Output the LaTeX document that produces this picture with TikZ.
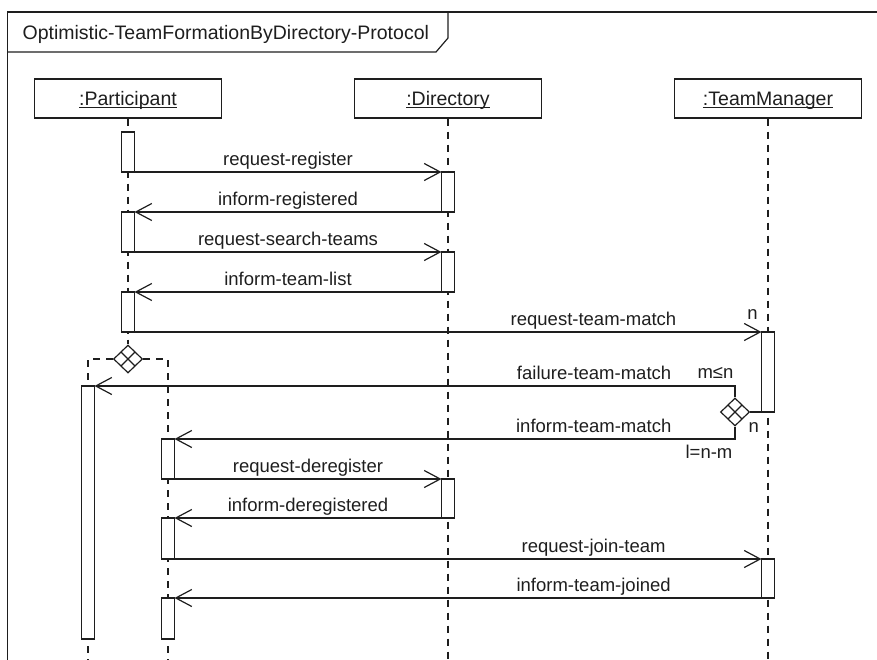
\documentclass[tikz,border=0pt]{standalone}
\usepackage{fontspec}
\setmainfont{Liberation Sans}
\usetikzlibrary{arrows.meta,shapes.geometric}
\definecolor{ink}{RGB}{30,30,30}
\tikzset{
  head/.style={draw, fill=white, minimum width=187pt, minimum height=39pt, inner sep=0pt,
    text height=14pt, text depth=0pt, font=\fontsize{19.5}{22}\selectfont},
  act/.style={draw, fill=white, minimum width=13pt, minimum height=#1, inner sep=0pt,
    outer sep=0pt, anchor=north},
  life/.style={dash pattern=on 7pt off 6pt},
  msg/.style={-{Straight Barb[length=16pt,width=17pt]}},
  lbl/.style={anchor=base, yshift=6.5pt, inner sep=0pt, font=\fontsize{18.5}{22}\selectfont},
  mult/.style={inner sep=0pt, font=\fontsize{18.5}{22}\selectfont},
  choice/.style={diamond, draw, fill=white, minimum width=29pt, minimum height=28pt, inner sep=0pt,
    path picture={\draw (path picture bounding box.center) +(-7pt,-7pt) -- +(7pt,7pt) +(-7pt,7pt) -- +(7pt,-7pt);}}
}

\begin{document}
\begin{tikzpicture}[x=1pt, y=-1pt, line width=1.2pt, ink]
  \useasboundingbox (0,0) rectangle (877,660);

  % frame
  \draw (7.5,660) -- (7.5,12) -- (877,12);
  \draw (7.5,52) -- (436,52) -- (448,38) -- (448,12);
  \node[anchor=base west, inner sep=0pt, font=\fontsize{19.5}{22}\selectfont] (title) at (22,40)
    {Optimistic-TeamFormationByDirectory-Protocol};

  % objects
  \node[head] (part) at (128,98.5) {\underline{\smash{:Participant}}};
  \node[head] (dir) at (448,98.5) {\underline{\smash{:Directory}}};
  \node[head] (tm) at (768,98.5) {\underline{\smash{:TeamManager}}};

  \node[choice] (pdec) at (128,359) {};
  \node[choice] (tdec) at (735,412) {};

  \coordinate (lend) at (88,660);
  \coordinate (rend) at (168,660);
  \coordinate (dend) at (448,660);
  \coordinate (tend) at (768,660);

  % lifelines
  \draw[life] (part.south) -- (pdec.north);
  \draw[life] (pdec.west) -| (lend);
  \draw[life] (pdec.east) -| (rend);
  \draw[life] (dir.south) -- (dend);
  \draw[life] (tm.south) -- (tend);

  % activations
  \node[act=40] (p1) at (128,132) {};
  \node[act=40] (p2) at (128,212) {};
  \node[act=40] (p3) at (128,292) {};
  \node[act=40] (d1) at (448,172) {};
  \node[act=40] (d2) at (448,252) {};
  \node[act=39] (d3) at (448,479) {};
  \node[act=80] (t1) at (768,332) {};
  \node[act=39] (t2) at (768,559) {};
  \node[act=253] (l1) at (88,386) {};
  \node[act=40] (r1) at (168,439) {};
  \node[act=41] (r2) at (168,518) {};
  \node[act=41] (r3) at (168,598) {};

  % messages
  \draw[msg] (p1.south east) -- (d1.north west) node[lbl, midway] {request-register};
  \draw[msg] (d1.south west) -- (p2.north east) node[lbl, midway] {inform-registered};
  \draw[msg] (p2.south east) -- (d2.north west) node[lbl, midway] {request-search-teams};
  \draw[msg] (d2.south west) -- (p3.north east) node[lbl, midway] {inform-team-list};
  \draw[msg] (p3.south east) -- (t1.north west) node[lbl, pos=0.732] {request-team-match};
  \draw (t1.south east) -- (tdec.east);
  \draw[msg] (tdec.north) |- (l1.north east) node[lbl, pos=0.61] {failure-team-match};
  \draw[msg] (tdec.south) |- (r1.north east) node[lbl, pos=0.626] {inform-team-match};
  \draw[msg] (r1.south east) -- (d3.north west) node[lbl, midway] {request-deregister};
  \draw[msg] (d3.south west) -- (r2.north east) node[lbl, midway] {inform-deregistered};
  \draw[msg] (r2.south east) -- (t2.north west) node[lbl, pos=0.714] {request-join-team};
  \draw[msg] (t2.south west) -- (r3.north east) node[lbl, pos=0.286] {inform-team-joined};

  % multiplicities
  \node[mult, anchor=base] (nin) at ([xshift=-9pt, yshift=13pt]t1.north west) {n};
  \node[mult, anchor=base east] (mfail) at ([xshift=-1pt, yshift=8pt]tdec.north |- l1.north) {m≤n};
  \node[mult, anchor=base west] (nout) at ([xshift=13pt, yshift=-6pt]tdec.south) {n};
  \node[mult, anchor=base east] (lok) at ([xshift=-2pt, yshift=-19pt]tdec.south |- r1.north) {l=n-m};
\end{tikzpicture}
\end{document}
